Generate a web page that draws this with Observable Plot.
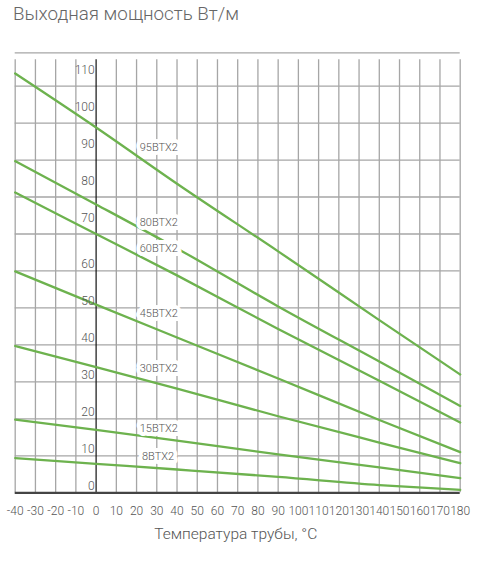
<!DOCTYPE html>
<html><head><meta charset="utf-8">
<script src="https://cdn.jsdelivr.net/npm/d3@7"></script>
<script src="https://cdn.jsdelivr.net/npm/@observablehq/plot@0.6"></script>
<style>
body{margin:0;background:#fff;font-family:Roboto,"Open Sans",sans-serif;}
#title{height:36px;box-sizing:border-box;padding-left:13px;padding-top:3px;font-size:18.8px;line-height:22px;color:#666;font-weight:300;}
#chart svg{display:block;}
</style></head><body>
<div id="title">Выходная мощность Вт/м</div>
<div id="chart"></div>
<script>
// ---- data ----
const temps = [-40, 0, 40, 90, 140, 180];
const seriesNames = ["95BTX2", "80BTX2", "60BTX2", "45BTX2", "30BTX2", "15BTX2", "8BTX2"];
const s95 = [113.4, 98.8, 83.6, 65.3, 46.7, 32.0];
const s80 = [89.7, 78.0, 66.1, 50.4, 35.5, 23.5];
const s60 = [81.2, 70.0, 58.8, 44.3, 30.3, 19.0];
const s45 = [59.9, 50.9, 42.0, 30.9, 19.7, 11.0];
const s30 = [39.7, 34.0, 28.2, 20.7, 13.6, 8.0];
const s15 = [19.8, 17.0, 14.1, 10.4, 6.9, 3.95];
const s8  = [9.4, 7.85, 6.3, 4.3, 2.1, 0.8];
const xTicks = [-40, -30, -20, -10, 0, 10, 20, 30, 40, 50, 60, 70, 80, 90, 100, 110, 120, 130, 140, 150, 160, 170, 180];
const xTickLabels = ["-40","-30","-20","-10","0","10","20","30","40","50","60","70","80","90","100","110","120","130","140","150","160","170","180"];
const yTicks = [0, 10, 20, 30, 40, 50, 60, 70, 80, 90, 100, 110];
const yTickLabels = ["0","10","20","30","40","50","60","70","80","90","100","110"];
const xTitle = "Температура трубы, °С";

// ---- build ----
const allSeries = [s95, s80, s60, s45, s30, s15, s8];
const rows = [];
allSeries.forEach((vals, i) => vals.forEach((v, j) => rows.push({name: seriesNames[i], t: temps[j], p: v})));
// annotation anchors (data coordinates) for the series names
const labelAnchors = [
  {x: 31, y: 93.5}, {x: 31, y: 73.2}, {x: 31, y: 66.0}, {x: 31, y: 48.4},
  {x: 31, y: 33.6}, {x: 31, y: 17.3}, {x: 30.6, y: 9.7}
];
const labels = seriesNames.map((n, i) => ({text: n, ...labelAnchors[i]}));
const yTop = 119;
const yt = yTicks.map((v, i) => ({v, s: yTickLabels[i]}));
const xt = xTicks.map((v, i) => ({v, s: xTickLabels[i]}));

const font = "Roboto, 'Open Sans', sans-serif";
const grid = "#a6a6a6";
const chart = Plot.plot({
  width: 488, height: 536,
  marginLeft: 14.7, marginRight: 28.3, marginTop: 16.3, marginBottom: 79.7,
  x: {domain: [-40, 180], axis: null},
  y: {domain: [0, yTop], axis: null},
  style: {fontFamily: font, background: "white", color: "#555"},
  marks: [
    Plot.ruleY(yTicks.filter(d => d > 0), {stroke: grid, strokeWidth: 1.3}),
    Plot.ruleY([yTop], {stroke: grid, strokeWidth: 1.3}),
    Plot.ruleX(xTicks.filter(d => d !== 0), {y1: 0, y2: yTop, insetBottom: -7, stroke: grid, strokeWidth: 1.3}),
    Plot.ruleX([0], {y1: 0, y2: yTop, insetBottom: -7, stroke: "#111", strokeWidth: 1.2}),
    Plot.line(rows, {x: "t", y: "p", z: "name", stroke: "#6db24e", strokeWidth: 2.3, curve: "monotone-x"}),
    Plot.text(labels, {x: "x", y: "y", text: "text", fontSize: 11, fill: "#555", stroke: "white", strokeWidth: 8, paintOrder: "stroke", fontWeight: 300}),
    Plot.ruleY([0], {stroke: "#444", strokeWidth: 2.2}),
    Plot.text(yt.filter(d => d.v < 70), {x: 0, y: "v", text: "s", textAnchor: "end", dx: -1.5, dy: -7, fontSize: 12, fill: "#555", fontWeight: 300}),
    Plot.text(yt.filter(d => d.v >= 70), {x: 0, y: "v", text: "s", textAnchor: "end", dx: -1.5, dy: -16, fontSize: 12, fill: "#555", fontWeight: 300}),
    Plot.text(xt, {x: "v", y: 0, text: "s", dy: 18.4, fontSize: 12, fill: "#555", fontWeight: 300}),
    Plot.text([xTitle], {frameAnchor: "bottom", dx: -2, dy: 46, fontSize: 15.5, fill: "#555", fontWeight: 300})
  ]
});
document.getElementById("chart").appendChild(chart);
</script>
</body></html>
